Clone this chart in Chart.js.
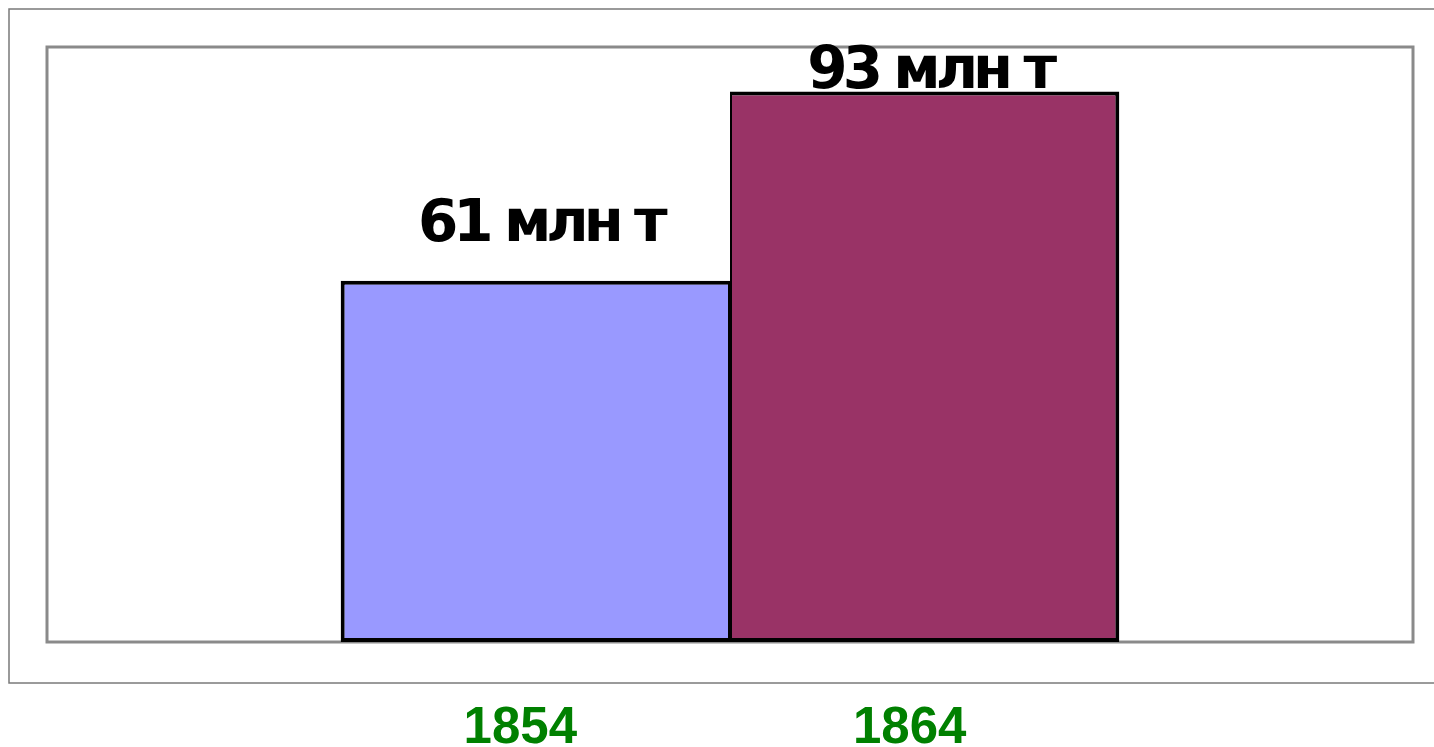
<!DOCTYPE html>
<html>
<head>
<meta charset="utf-8">
<style>
  html, body { margin: 0; padding: 0; background: #ffffff; }
  #wrap { width: 1434px; height: 747px; }
</style>
<script src="https://cdn.jsdelivr.net/npm/chart.js@4/dist/chart.umd.min.js"></script>
</head>
<body>
<div id="wrap"><canvas id="coal-chart" width="1434" height="747"></canvas></div>
<script>
var years = ["1854", "1864"];
var output = [61, 93];
var valueLabels = ["61 млн т", "93 млн т"];
var barColors = ["#9999ff", "#993366"];

(function () {
  "use strict";

  // frame around the plot area plus the thin outer box
  var framePlugin = {
    id: "frame",
    beforeDatasetsDraw: function (chart) {
      var ctx = chart.ctx;
      var a = chart.chartArea;
      ctx.save();
      ctx.strokeStyle = "#7a7a7a";
      ctx.lineWidth = 1.5;
      ctx.strokeRect(a.left - 38, a.top - 38, chart.width + 40, a.bottom - a.top + 79);
      ctx.strokeStyle = "#8a8a8a";
      ctx.lineWidth = 3;
      ctx.strokeRect(a.left, a.top, a.right - a.left, a.bottom - a.top);
      ctx.restore();
    },
  };

  var labelsPlugin = {
    id: "barLabels",
    afterDatasetsDraw: function (chart) {
      var ctx = chart.ctx;
      var a = chart.chartArea;
      ctx.save();
      ctx.textAlign = "center";
      ctx.textBaseline = "alphabetic";
      chart.data.datasets.forEach(function (ds, i) {
        var bar = chart.getDatasetMeta(i).data[0];
        if (!bar) return;
        ctx.fillStyle = "#000000";
        ctx.font = "bold 58px 'DejaVu Sans'";
        ctx.letterSpacing = "-5px";
        // keep the value label inside the plot frame
        var y = Math.max(bar.y - 40, a.top + 41);
        ctx.fillText(valueLabels[i], bar.x + 5, y);
        ctx.letterSpacing = "0px";
        ctx.fillStyle = "#008000";
        ctx.font = "bold 51px 'Liberation Sans'";
        ctx.fillText(years[i], bar.x - 15, a.bottom + 101);
      });
      ctx.restore();
    },
  };

  new Chart(document.getElementById("coal-chart"), {
    type: "bar",
    data: {
      labels: [""],
      datasets: years.map(function (year, i) {
        return {
          label: year,
          data: [output[i]],
          backgroundColor: barColors[i],
          borderColor: "#000000",
          borderWidth: i === 0
            ? { left: 4, top: 4, right: 2, bottom: 4 }
            : { left: 2, top: 4, right: 4, bottom: 4 },
          borderSkipped: false,
        };
      }),
    },
    options: {
      responsive: false,
      animation: false,
      categoryPercentage: 0.57,
      barPercentage: 1,
      layout: { padding: { left: 47, top: 47, right: 21, bottom: 105 } },
      plugins: {
        legend: { display: false },
        tooltip: { enabled: false },
      },
      scales: {
        x: { display: false },
        y: { display: false, min: 0, max: 100.5 },
      },
    },
    plugins: [framePlugin, labelsPlugin],
  });
})();
</script>
</body>
</html>
